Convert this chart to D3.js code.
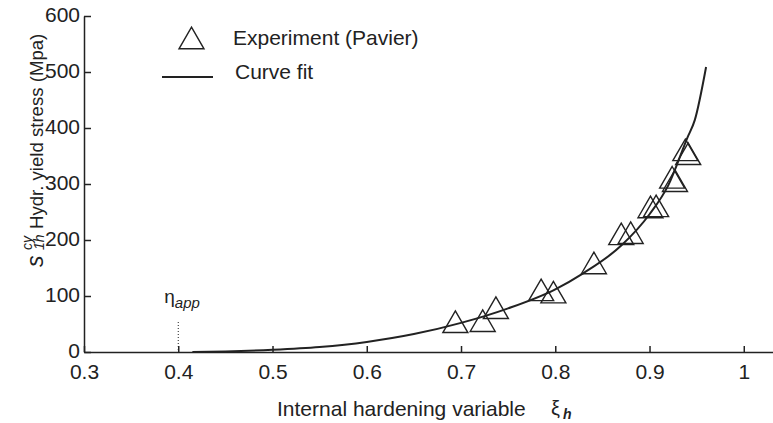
<!DOCTYPE html>
<html>
<head>
<meta charset="utf-8">
<script src="https://cdn.jsdelivr.net/npm/d3@7"></script>
<style>
  body { margin: 0; background: #fff; }
  svg { display: block; }
  text { font-family: "Liberation Sans", Arial, sans-serif; fill: #222; }
</style>
</head>
<body>
<svg id="chart" width="773" height="423"></svg>
<script>
// experimental points (Pavier)
var expXi = [0.694, 0.723, 0.737, 0.785, 0.798, 0.841, 0.870, 0.880, 0.901, 0.907, 0.924, 0.927, 0.938, 0.941];
var expStress = [54, 56, 79, 111, 107, 159, 211, 213, 259, 261, 312, 306, 361, 354];

// curve fit
var fitXi = [0.415, 0.45, 0.5, 0.55, 0.6, 0.65, 0.7, 0.75, 0.8, 0.83, 0.87, 0.9, 0.92, 0.94, 0.948, 0.96];
var fitStress = [0, 1, 4, 9, 18, 32, 52, 78, 112, 141, 190, 246, 298, 382, 414, 509];

var xTicks = [0.3, 0.4, 0.5, 0.6, 0.7, 0.8, 0.9, 1];
var yTicks = [0, 100, 200, 300, 400, 500, 600];
var etaApp = 0.4;

var svg = d3.select("#chart");
var ink = "#222";

var x = d3.scaleLinear().domain([0.3, 1.031]).range([84, 773]);
var y = d3.scaleLinear().domain([0, 600]).range([352, 16]);

// axes
var xAxis = svg.append("g")
    .attr("transform", "translate(0," + y(0) + ")")
    .call(d3.axisBottom(x).tickValues(xTicks).tickSizeInner(-6).tickSizeOuter(0)
          .tickPadding(12).tickFormat(d3.format("~g")));
var yAxis = svg.append("g")
    .attr("transform", "translate(" + x(0.3) + ",0)")
    .call(d3.axisLeft(y).tickValues(yTicks).tickSizeInner(-7).tickSizeOuter(0)
          .tickPadding(4));

[xAxis, yAxis].forEach(function(a) {
    a.selectAll("path, line").attr("stroke", ink).attr("stroke-width", 1.5);
    a.selectAll("text").style("font-size", "21px").attr("fill", ink);
});
// the "0" sits a little above the axis line
yAxis.selectAll("text").attr("dy", "0.25em");

// eta_app marker
svg.append("line")
    .attr("x1", x(etaApp)).attr("x2", x(etaApp))
    .attr("y1", y(0) - 30).attr("y2", y(0))
    .attr("stroke", ink).attr("stroke-width", 1)
    .attr("stroke-dasharray", "1,2");
var eta = svg.append("text").attr("x", x(etaApp) - 14).attr("y", 303)
    .style("font-size", "19px");
eta.append("tspan").text("η");
eta.append("tspan").attr("dy", 5).style("font-size", "15px")
    .style("font-style", "italic").text("app");

// curve fit
var fit = fitXi.map(function(d, i) { return [d, fitStress[i]]; });
svg.append("path")
    .datum(fit)
    .attr("fill", "none")
    .attr("stroke", ink)
    .attr("stroke-width", 2)
    .attr("d", d3.line()
          .x(function(d) { return x(d[0]); })
          .y(function(d) { return y(d[1]); })
          .curve(d3.curveMonotoneX));

// triangle, centred on its bounding box
function tri(cx, cy) {
    var w = 12.5, h = 10.8;
    return "M" + cx + "," + (cy - h) + "L" + (cx + w) + "," + (cy + h) +
        "L" + (cx - w) + "," + (cy + h) + "Z";
}

svg.selectAll(".exp")
    .data(expXi)
    .enter().append("path")
    .attr("class", "exp")
    .attr("fill", "none")
    .attr("stroke", ink)
    .attr("stroke-width", 1.4)
    .attr("d", function(d, i) { return tri(x(d), y(expStress[i])); });

// legend
var leg = svg.append("g");
leg.append("path").attr("d", tri(191.5, 38))
    .attr("fill", "none").attr("stroke", ink).attr("stroke-width", 1.4);
leg.append("text").attr("x", 233).attr("y", 45)
    .style("font-size", "21px").text("Experiment (Pavier)");
leg.append("line").attr("x1", 162).attr("x2", 213).attr("y1", 77).attr("y2", 77)
    .attr("stroke", ink).attr("stroke-width", 2);
leg.append("text").attr("x", 235).attr("y", 79)
    .style("font-size", "21px").text("Curve fit");

// x title
var xt = svg.append("g");
xt.append("text").attr("x", 277).attr("y", 416)
    .style("font-size", "21px").text("Internal hardening variable");
xt.append("text").attr("x", 551).attr("y", 415)
    .style("font-size", "20px").text("ξ");
xt.append("text").attr("x", 563).attr("y", 419)
    .style("font-size", "14px").style("font-style", "italic")
    .style("font-weight", "bold").text("h");

// y title (rotated)
var yt = svg.append("g").attr("transform", "translate(43,267) rotate(-90)");
yt.append("text").attr("x", 0).attr("y", 0)
    .style("font-size", "23px").style("font-style", "italic").text("s");
yt.append("text").attr("x", 17).attr("y", -11)
    .style("font-size", "14px").style("font-style", "italic").text("cy");
yt.append("text").attr("x", 17).attr("y", 1)
    .style("font-size", "14px").style("font-style", "italic").text("1h");
yt.append("text").attr("x", 38).attr("y", 0)
    .style("font-size", "18.6px").text("Hydr. yield stress (Mpa)");
</script>
</body>
</html>
